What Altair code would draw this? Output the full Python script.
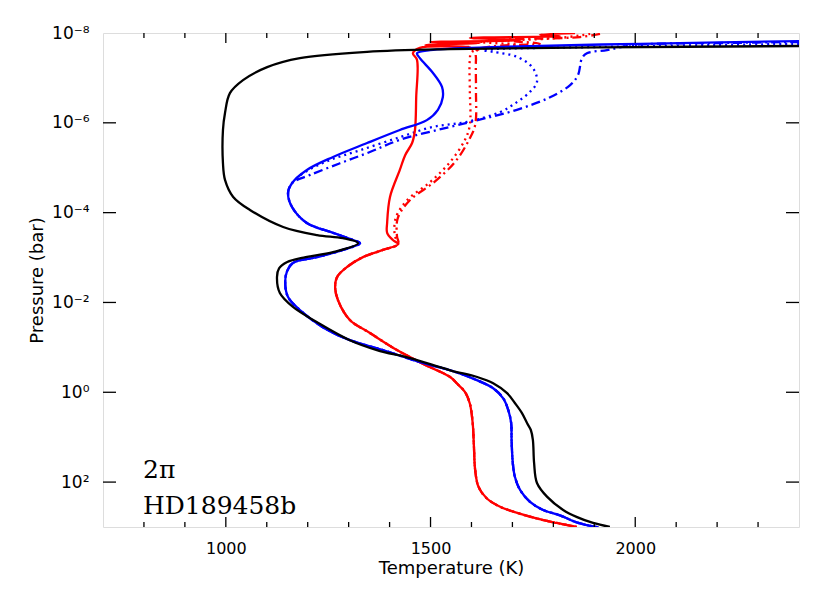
import math
import altair as alt
import pandas as pd

# ---------------- data (temperature in K, log10 pressure in bar) ----------------
black_T = [2400, 1914, 1548, 1345, 1181, 1101, 1042, 1010, 998, 993,
           993, 998, 1018, 1059, 1140, 1223, 1286, 1323, 1262, 1190,
           1150, 1130, 1125, 1132, 1164, 1223, 1303, 1369, 1450, 1548,
           1614, 1653, 1687, 1706, 1723, 1736, 1745, 1750, 1753, 1760,
           1785, 1824, 1858, 1897, 1938]
black_logP = [-7.71, -7.68, -7.64, -7.58, -7.44, -7.24, -6.95, -6.66, -6.22, -5.84,
              -5.10, -4.73, -4.35, -4.06, -3.68, -3.50, -3.43, -3.32, -3.12, -3.00,
              -2.90, -2.76, -2.57, -2.21, -1.90, -1.56, -1.16, -0.94, -0.76, -0.49,
              -0.34, -0.20, 0.02, 0.24, 0.46, 0.69, 0.84, 1.06, 1.58, 2.02,
              2.33, 2.62, 2.78, 2.91, 3.00]

blue_T = [2400, 2012, 1670, 1499, 1467, 1474, 1506, 1528, 1530, 1518,
          1491, 1425, 1345, 1262, 1198, 1162, 1152, 1162, 1198, 1262,
          1311, 1328, 1286, 1223, 1164, 1149, 1145, 1152, 1181, 1237,
          1303, 1384, 1474, 1548, 1613, 1653, 1678, 1690, 1697, 1698,
          1701, 1706, 1719, 1743, 1775, 1816, 1861, 1910]
blue_logP = [-7.82, -7.76, -7.69, -7.62, -7.55, -7.44, -7.11, -6.80, -6.57, -6.29,
             -6.06, -5.84, -5.55, -5.24, -4.95, -4.66, -4.44, -4.12, -3.77, -3.55,
             -3.39, -3.32, -3.17, -3.01, -2.88, -2.68, -2.43, -2.12, -1.83, -1.45,
             -1.16, -0.94, -0.67, -0.49, -0.27, -0.09, 0.14, 0.40, 0.69, 1.06,
             1.58, 1.88, 2.18, 2.44, 2.62, 2.74, 2.91, 3.01]

# upper atmosphere of the dotted / dash-dot blue runs (below they follow the solid one)
blue_dot_T_upper = [2400, 1914, 1628, 1653, 1711, 1750, 1760, 1743, 1711, 1670,
                    1589, 1506, 1425, 1328, 1254, 1193]
blue_dot_logP_upper = [-7.76, -7.69, -7.62, -7.58, -7.47, -7.22, -6.91, -6.69, -6.46, -6.24,
                       -6.02, -5.91, -5.68, -5.39, -5.17, -4.90]
blue_dd_T_upper = [2400, 2239, 1995, 1931, 1882, 1870, 1860, 1841, 1792, 1711,
                   1589, 1425, 1352, 1279, 1206]
blue_dd_logP_upper = [-7.80, -7.78, -7.73, -7.62, -7.55, -7.44, -7.06, -6.84, -6.57, -6.29,
                      -6.00, -5.62, -5.35, -5.10, -4.84]

red_T = [1853, 1767, 1816, 1596, 1719, 1499, 1621, 1487, 1596, 1474,
         1457, 1467, 1465, 1462, 1455, 1438, 1425, 1401, 1394, 1394,
         1408, 1421, 1384, 1335, 1296, 1272, 1267, 1274, 1303, 1352,
         1418, 1487, 1548, 1564, 1584, 1596, 1603, 1606, 1609, 1617,
         1637, 1670, 1710, 1759, 1808, 1857]
red_logP = [-8.00, -7.96, -7.93, -7.89, -7.84, -7.80, -7.78, -7.73, -7.69, -7.67,
            -7.55, -7.40, -6.57, -5.84, -5.55, -5.28, -4.95, -4.35, -3.77, -3.55,
            -3.39, -3.30, -3.17, -3.01, -2.79, -2.57, -2.34, -2.05, -1.61, -1.32,
            -0.94, -0.61, -0.34, -0.20, -0.01, 0.25, 0.69, 1.21, 1.73, 2.10,
            2.36, 2.55, 2.68, 2.81, 2.91, 3.00]

red_dot_T_upper = [1890, 1816, 1621, 1719, 1601, 1596, 1596, 1596, 1584, 1548,
                   1499, 1443, 1415, 1413]
red_dot_logP_upper = [-7.98, -7.89, -7.80, -7.73, -7.58, -7.40, -6.73, -5.95, -5.62, -5.13,
                      -4.68, -4.28, -3.88, -3.48]
red_dd_T_upper = [1914, 1865, 1670, 1767, 1614, 1611, 1611, 1609, 1594, 1560,
                  1509, 1450, 1420, 1418]
red_dd_logP_upper = [-7.98, -7.91, -7.84, -7.76, -7.62, -7.40, -6.73, -5.95, -5.62, -5.13,
                     -4.68, -4.28, -3.88, -3.48]

x_tick_values = [800, 900, 1000, 1100, 1200, 1300, 1400, 1500, 1600, 1700,
                 1800, 1900, 2000, 2100, 2200, 2300]
x_label_values = [1000, 1500, 2000]
y_label_values = [1e-8, 1e-6, 1e-4, 1e-2, 1e0, 1e2]
y_label_text = ["10⁻⁸", "10⁻⁶", "10⁻⁴", "10⁻²", "10⁰", "10²"]
y_tick_values = [1e-6, 1e-4, 1e-2, 1e0, 1e2]
notes = ["2π", "HD189458b"]

# ---------------- build chart ----------------
series = [
    ("blue dotted", blue_dot_T_upper + blue_T[15:], blue_dot_logP_upper + blue_logP[15:], "#0000ff", [2, 4]),
    ("blue dashdot", blue_dd_T_upper + blue_T[15:], blue_dd_logP_upper + blue_logP[15:], "#0000ff", [9, 4, 2, 4]),
    ("red dotted", red_dot_T_upper + red_T[21:], red_dot_logP_upper + red_logP[21:], "#ff0000", [2, 4]),
    ("red dashdot", red_dd_T_upper + red_T[21:], red_dd_logP_upper + red_logP[21:], "#ff0000", [9, 4, 2, 4]),
    ("red", red_T, red_logP, "#ff0000", None),
    ("blue", blue_T, blue_logP, "#0000ff", None),
    ("black", black_T, black_logP, "#000000", None),
]

W, H = 696, 494
xscale = alt.Scale(domain=[700, 2400], nice=False, zero=False)
yscale = alt.Scale(type="log", domain=[1e-8, 1e3], reverse=True, nice=False)

FONT = "DejaVu Sans"

cond = "''"
for v, t in reversed(list(zip(y_label_values, y_label_text))):
    e = int(round(math.log10(v)))
    cond = f"(round(log(datum.value)/LN10) == {e} ? '{t}' : {cond})"

x_axis = alt.Axis(values=x_label_values, format="d", ticks=False, domain=False, grid=False,
                  labelPadding=13, title="Temperature (K)", titlePadding=3,
                  labelFontSize=16, titleFontSize=18, labelFont=FONT, titleFont=FONT,
                  titleFontWeight="normal", labelColor="black", titleColor="black")
y_axis = alt.Axis(values=y_label_values, ticks=False, domain=False, grid=False,
                  labelExpr=cond, labelPadding=14, title="Pressure (bar)", titlePadding=5,
                  labelFontSize=17, titleFontSize=18, labelFont=FONT, titleFont=FONT,
                  titleFontWeight="normal", labelColor="black", titleColor="black")

X = lambda: alt.X("T:Q", scale=xscale, axis=x_axis)
Y = lambda: alt.Y("P:Q", scale=yscale, axis=y_axis)

layers = []
for name, T, lp, col, dash in series:
    df = pd.DataFrame({"i": range(len(T)), "T": T, "P": [10 ** v for v in lp]})
    mk = dict(color=col, strokeWidth=2.3, clip=True, strokeJoin="round", interpolate="catmull-rom")
    if dash:
        mk["strokeDash"] = dash
    layers.append(alt.Chart(df).mark_line(**mk).encode(x=X(), y=Y(), order="i:Q"))

xt = pd.DataFrame({"T": x_tick_values, "major": [v in x_label_values for v in x_tick_values]})
for major, L in [(False, 5), (True, 10)]:
    base = alt.Chart(xt).transform_filter(alt.datum.major == major).mark_rule(color="black", strokeWidth=1.3)
    layers.append(base.encode(x=X(), y=alt.value(H), y2=alt.value(H - L)))
    layers.append(base.encode(x=X(), y=alt.value(0), y2=alt.value(L)))

yt = pd.DataFrame({"P": y_tick_values})
ybase = alt.Chart(yt).mark_rule(color="black", strokeWidth=1.3)
layers.append(ybase.encode(y=Y(), x=alt.value(0), x2=alt.value(13)))
layers.append(ybase.encode(y=Y(), x=alt.value(W), x2=alt.value(W - 13)))

for txt, yy in zip(notes, [445, 481]):
    layers.append(
        alt.Chart(pd.DataFrame({"t": [txt]})).mark_text(
            align="left", baseline="alphabetic", font="DejaVu Serif", fontSize=25, color="black"
        ).encode(x=alt.value(40), y=alt.value(yy), text="t:N")
    )

chart = alt.layer(*layers).properties(
    width=W, height=H,
    autosize=alt.AutoSizeParams(type="none"),
    padding={"left": 95, "top": 25, "right": 20, "bottom": 58},
).configure_view(stroke="black", strokeWidth=1.6).configure(background="white")

chart.save("out.html", embed_options={"renderer": "svg", "actions": False})
